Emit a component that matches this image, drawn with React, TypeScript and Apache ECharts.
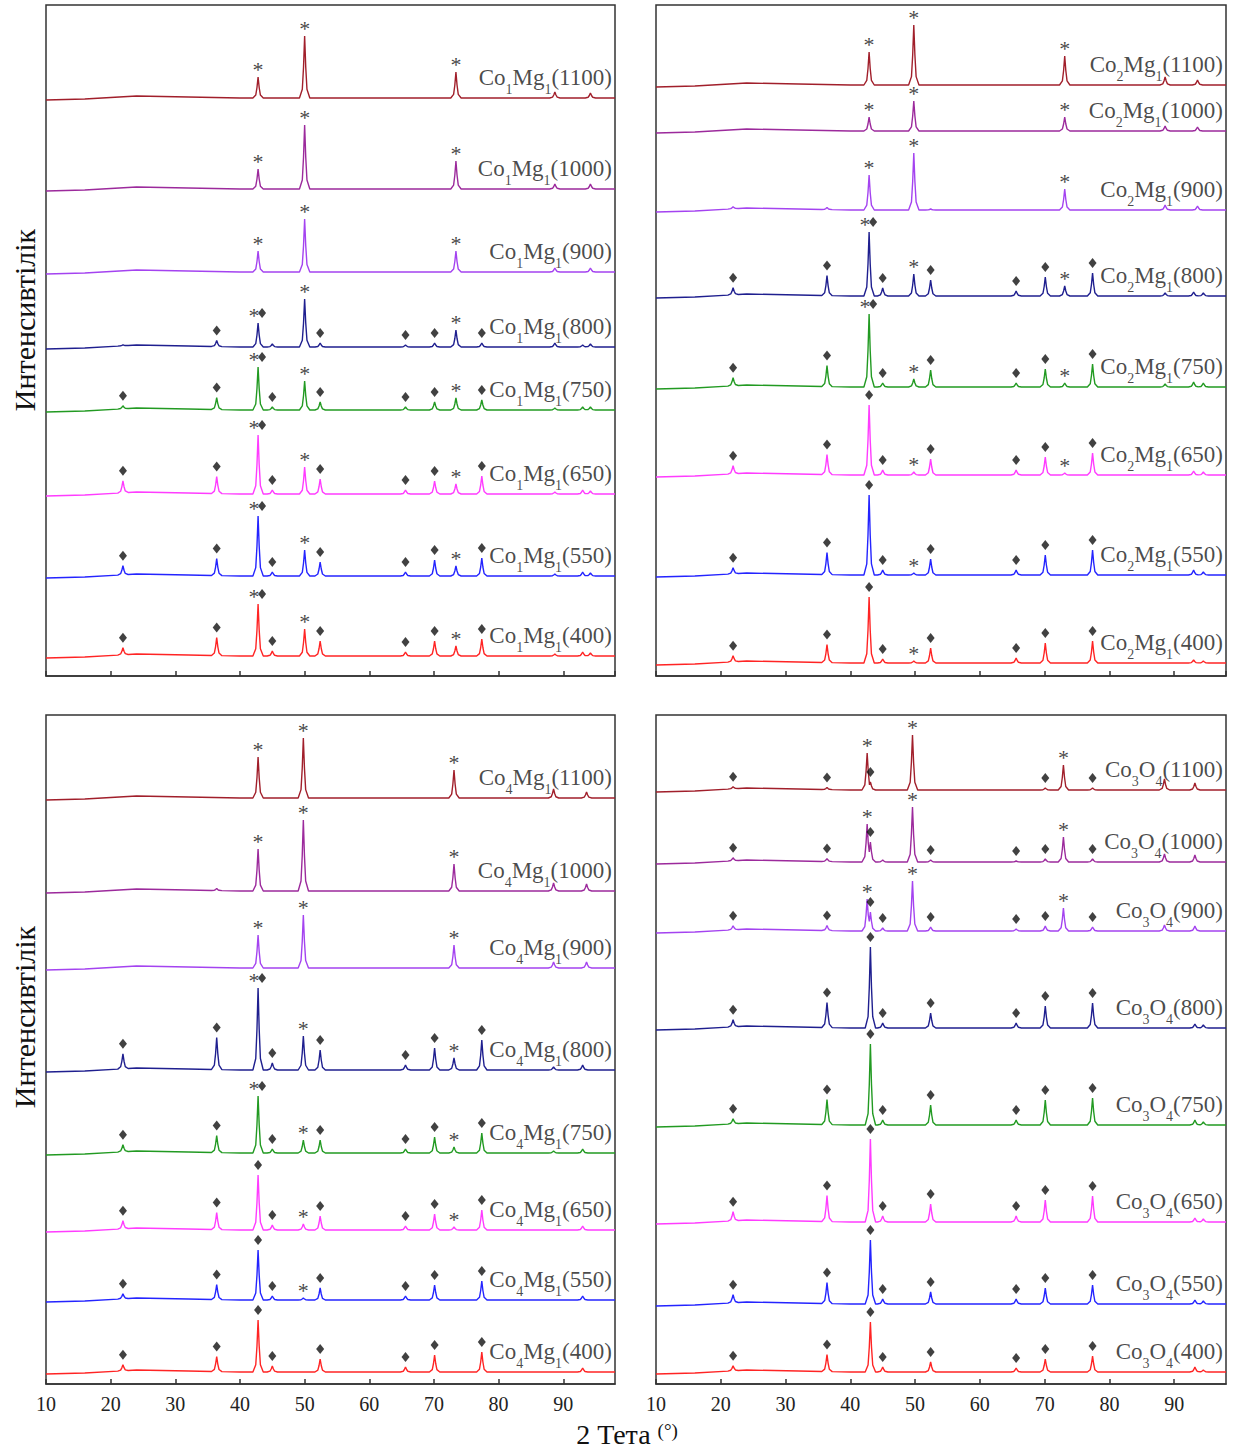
import React, { useEffect, useRef } from 'react';
import * as echarts from 'echarts';

// ---------- data (intensities in arbitrary units) ----------
const temps = ['1100', '1000', '900', '800', '750', '650', '550', '400'];
const colors = ['#a11f2b', '#9c2a9c', '#a443f0', '#1f1f8f', '#229a22', '#ff3cff', '#2424ff', '#ff2424'];

// Panel A : Co1Mg1
const posA = [21.9, 36.4, 42.8, 45.0, 50.0, 52.4, 65.6, 70.1, 73.4, 77.4, 88.7, 93.0, 94.2];
const baseA = [578, 487, 404, 329, 266, 182, 100, 20];
const hA = [
  [0, 0, 21, 0, 62, 0, 0, 0, 26, 0, 6, 0, 5],
  [0, 0, 20, 0, 64, 0, 0, 0, 28, 0, 5, 0, 5],
  [0, 0, 21, 0, 53, 0, 0, 0, 21, 0, 4, 0, 4],
  [1, 6, 24, 3, 48, 4, 2, 4, 17, 4, 4, 2, 3],
  [3, 12, 43, 3, 29, 8, 3, 8, 12, 10, 2, 3, 3],
  [12, 17, 59, 4, 27, 15, 4, 13, 10, 18, 2, 4, 3],
  [9, 17, 60, 4, 26, 14, 4, 16, 10, 18, 2, 4, 3],
  [7, 18, 52, 5, 27, 15, 4, 15, 10, 17, 2, 4, 3],
];
const starOnlyA = [[2, '*'], [4, '*'], [8, '*']];
const mixA = [[0, '◆'], [1, '◆'], [2, '*◆'], [3, '◆'], [4, '*'], [5, '◆'], [6, '◆'], [7, '◆'], [8, '*'], [9, '◆']];
const marksA = [
  starOnlyA, starOnlyA, starOnlyA,
  [[1, '◆'], [2, '*◆'], [4, '*'], [5, '◆'], [6, '◆'], [7, '◆'], [8, '*'], [9, '◆']],
  mixA, mixA, mixA, mixA,
];

// Panel B : Co2Mg1
const posB = [21.9, 36.4, 42.9, 45.0, 49.8, 52.4, 65.6, 70.1, 73.1, 77.4, 88.6, 93.0, 93.6, 94.5];
const baseB = [591, 545, 466, 380, 289, 201, 101, 13];
const hB = [
  [0, 0, 33, 0, 60, 0, 0, 0, 29, 0, 8, 0, 5, 0],
  [0, 0, 14, 0, 30, 0, 0, 0, 14, 0, 5, 0, 4, 0],
  [2, 2, 35, 0, 57, 1, 0, 0, 21, 0, 5, 0, 4, 0],
  [7, 20, 64, 8, 22, 16, 5, 19, 10, 23, 3, 4, 0, 3],
  [8, 21, 73, 4, 8, 17, 4, 18, 4, 23, 3, 5, 0, 4],
  [8, 20, 70, 5, 3, 16, 5, 18, 2, 22, 0, 4, 0, 3],
  [6, 22, 80, 5, 2, 16, 5, 20, 0, 25, 0, 5, 0, 3],
  [6, 18, 66, 4, 2, 15, 5, 20, 0, 22, 0, 3, 0, 2],
];
const starOnlyB = [[2, '*'], [4, '*'], [8, '*']];
const mixB = [[0, '◆'], [1, '◆'], [2, '*◆'], [3, '◆'], [4, '*'], [5, '◆'], [6, '◆'], [7, '◆'], [8, '*'], [9, '◆']];
const marksB = [
  starOnlyB, starOnlyB, starOnlyB, mixB, mixB,
  [[0, '◆'], [1, '◆'], [2, '◆'], [3, '◆'], [4, '*'], [5, '◆'], [6, '◆'], [7, '◆'], [8, '*'], [9, '◆']],
  [[0, '◆'], [1, '◆'], [2, '◆'], [3, '◆'], [4, '*'], [5, '◆'], [6, '◆'], [7, '◆'], [9, '◆']],
  [[0, '◆'], [1, '◆'], [2, '◆'], [3, '◆'], [4, '*'], [5, '◆'], [6, '◆'], [7, '◆'], [9, '◆']],
];

// Panel C : Co4Mg1
const posC = [21.9, 36.4, 42.8, 45.0, 49.8, 52.4, 65.6, 70.1, 73.1, 77.4, 88.5, 93.0, 93.6];
const baseC = [586, 493, 416, 314, 231, 154, 84, 12];
const hC = [
  [0, 0, 41, 0, 60, 0, 0, 0, 28, 0, 9, 0, 6],
  [0, 2, 42, 0, 71, 0, 0, 0, 27, 0, 8, 0, 7],
  [0, 0, 33, 0, 53, 0, 0, 0, 23, 0, 6, 0, 6],
  [15, 32, 82, 7, 34, 20, 5, 22, 12, 30, 3, 5, 0],
  [7, 17, 57, 4, 13, 13, 4, 16, 6, 20, 2, 4, 0],
  [8, 17, 55, 5, 6, 14, 4, 16, 3, 20, 0, 4, 0],
  [5, 15, 50, 4, 2, 12, 4, 15, 0, 19, 0, 4, 0],
  [6, 15, 52, 6, 0, 13, 5, 17, 0, 20, 0, 4, 0],
];
const starOnlyC = [[2, '*'], [4, '*'], [8, '*']];
const mixC = [[0, '◆'], [1, '◆'], [2, '*◆'], [3, '◆'], [4, '*'], [5, '◆'], [6, '◆'], [7, '◆'], [8, '*'], [9, '◆']];
const marksC = [
  starOnlyC, starOnlyC, starOnlyC, mixC, mixC,
  [[0, '◆'], [1, '◆'], [2, '◆'], [3, '◆'], [4, '*'], [5, '◆'], [6, '◆'], [7, '◆'], [8, '*'], [9, '◆']],
  [[0, '◆'], [1, '◆'], [2, '◆'], [3, '◆'], [4, '*'], [5, '◆'], [6, '◆'], [7, '◆'], [9, '◆']],
  [[0, '◆'], [1, '◆'], [2, '◆'], [3, '◆'], [5, '◆'], [6, '◆'], [7, '◆'], [9, '◆']],
];

// Panel D : Co3O4
const posD = [21.9, 36.4, 42.6, 43.1, 45.0, 49.6, 52.4, 65.6, 70.1, 72.9, 77.4, 88.5, 93.2, 94.5];
const baseD = [594, 522, 453, 356, 259, 162, 80, 12];
const hD = [
  [2, 2, 37, 8, 0, 55, 0, 0, 2, 25, 2, 11, 7, 0],
  [3, 3, 38, 20, 2, 55, 2, 1, 3, 25, 3, 8, 7, 0],
  [4, 5, 32, 19, 3, 50, 4, 2, 5, 23, 4, 6, 5, 0],
  [7, 25, 0, 81, 5, 0, 15, 5, 22, 0, 25, 0, 4, 3],
  [5, 25, 0, 81, 5, 0, 20, 5, 25, 0, 27, 0, 5, 3],
  [9, 26, 0, 83, 6, 0, 18, 6, 22, 0, 26, 0, 4, 3],
  [8, 21, 0, 64, 5, 0, 12, 5, 16, 0, 19, 0, 4, 3],
  [5, 17, 0, 50, 5, 0, 10, 4, 13, 0, 16, 0, 5, 2],
];
const spinelD = [[0, '◆'], [1, '◆'], [3, '◆'], [4, '◆'], [6, '◆'], [7, '◆'], [8, '◆'], [10, '◆']];
const marksD = [
  [[0, '◆'], [1, '◆'], [2, '*'], [3, '◆'], [5, '*'], [8, '◆'], [9, '*'], [10, '◆']],
  [[0, '◆'], [1, '◆'], [2, '*'], [3, '◆'], [5, '*'], [6, '◆'], [7, '◆'], [8, '◆'], [9, '*'], [10, '◆']],
  [[0, '◆'], [1, '◆'], [2, '*'], [3, '◆'], [4, '◆'], [5, '*'], [6, '◆'], [7, '◆'], [8, '◆'], [9, '*'], [10, '◆']],
  spinelD, spinelD, spinelD, spinelD, spinelD,
];

// baseline background (amorphous hump) and peak profile shape
const BG_X = [10, 16, 24, 32, 40, 98];
const BG_Y = [-2, -1, 2, 1, 0, 0];
const PROFILE_DX = [-0.8, -0.36, -0.17, 0, 0.17, 0.36, 0.8];
const PROFILE_FR = [0, 0.14, 0.5, 1, 0.5, 0.14, 0];
const HALF = 0.8;

const FONT = "'Liberation Serif', 'Times New Roman', serif";

function interp(xs: number[], ys: number[], x: number) {
  if (x <= xs[0]) return ys[0];
  if (x >= xs[xs.length - 1]) return ys[ys.length - 1];
  for (let i = 1; i < xs.length; i++) {
    if (x <= xs[i]) {
      const t = (x - xs[i - 1]) / (xs[i] - xs[i - 1]);
      return ys[i - 1] + t * (ys[i] - ys[i - 1]);
    }
  }
  return ys[ys.length - 1];
}

function traceY(pos: number[], hs: number[], base: number, x: number) {
  let peak = 0;
  pos.forEach((p, i) => {
    const dx = x - p;
    if (hs[i] > 0 && Math.abs(dx) < HALF) peak = Math.max(peak, hs[i] * interp(PROFILE_DX, PROFILE_FR, dx));
  });
  return base + interp(BG_X, BG_Y, x) + peak;
}

function buildTrace(pos: number[], hs: number[], base: number) {
  const set = new Set<number>(BG_X);
  pos.forEach((p, i) => {
    if (hs[i] > 0) PROFILE_DX.forEach((d) => set.add(+(p + d).toFixed(3)));
  });
  const xs = Array.from(set).filter((x) => x >= 10 && x <= 98).sort((a, b) => a - b);
  return xs.map((x) => [x, traceY(pos, hs, base, x)]);
}

function panelSeries(gi: number, pos: number[], bases: number[], heights: number[][], marks: any[][], fmt: (t: string) => string) {
  const series: any[] = [];
  bases.forEach((b, t) => {
    series.push({
      type: 'line', xAxisIndex: gi, yAxisIndex: gi, silent: true,
      data: buildTrace(pos, heights[t], b), symbol: 'none', showSymbol: false,
      lineStyle: { color: colors[t], width: 1.4 }, itemStyle: { color: colors[t] }, z: 2,
    });
  });
  const diamonds: any[] = [];
  const stars: any[] = [];
  marks.forEach((ml, t) => ml.forEach(([i, k]: [number, string]) => {
    const x = pos[i];
    const y = bases[t] + interp(BG_X, BG_Y, x) + heights[t][i];
    const both = k.length > 1;
    if (k.indexOf('◆') >= 0) diamonds.push({ value: [x, y], symbolOffset: [both ? 4 : 0, -10] });
    if (k.indexOf('*') >= 0) stars.push({ value: [x, y], label: { offset: [both ? -4 : 0, -8] } });
  }));
  series.push({
    type: 'scatter', xAxisIndex: gi, yAxisIndex: gi, silent: true, symbol: 'diamond', symbolSize: [8, 10],
    itemStyle: { color: '#111' }, data: diamonds, z: 5,
  });
  series.push({
    type: 'scatter', xAxisIndex: gi, yAxisIndex: gi, silent: true, symbolSize: 1,
    itemStyle: { color: 'rgba(0,0,0,0)' }, data: stars, z: 5,
    label: { show: true, formatter: '*', position: 'inside', fontSize: 22, fontFamily: FONT, color: '#111' },
  });
  series.push({
    type: 'scatter', xAxisIndex: gi, yAxisIndex: gi, silent: true, symbolSize: 1,
    itemStyle: { color: 'rgba(0,0,0,0)' }, z: 6,
    data: bases.map((b, t) => ({ value: [97.6, b + 21], label: { formatter: fmt(temps[t]) } })),
    label: {
      show: true, position: 'left', distance: 0, fontSize: 23, fontFamily: FONT, color: '#1a1a1a',
      rich: { s: { fontSize: 14, fontFamily: FONT, color: '#1a1a1a', padding: [24, 0, 0, 0] } },
    },
  });
  return series;
}

const grids = [
  { left: 46, top: 5, width: 569, height: 671 },
  { left: 656, top: 5, width: 570, height: 671 },
  { left: 46, top: 715, width: 569, height: 669 },
  { left: 656, top: 715, width: 570, height: 669 },
];

export default function App() {
  const ref = useRef<HTMLDivElement>(null);
  useEffect(() => {
    if (!ref.current) return;
    const chart = echarts.init(ref.current, undefined, { renderer: 'svg' });
    const axisColor = '#333';
    const option: any = {
      animation: false,
      backgroundColor: '#fff',
      grid: grids.map((g) => ({ ...g, show: true, borderColor: axisColor, borderWidth: 1.5, containLabel: false })),
      xAxis: grids.map((g, i) => ({
        gridIndex: i, type: 'value', min: 10, max: 98, interval: 10,
        axisLine: { show: true, onZero: false, lineStyle: { color: axisColor, width: 1.5 } },
        axisTick: { show: true, inside: true, length: 5, lineStyle: { color: axisColor, width: 1.5 } },
        axisLabel: { show: i >= 2, showMaxLabel: false, fontSize: 20, fontFamily: FONT, color: '#222', margin: 10 },
        splitLine: { show: false },
      })),
      yAxis: grids.map((g, i) => ({
        gridIndex: i, type: 'value', min: 0, max: g.height, show: false, splitLine: { show: false },
      })),
      series: [
        ...panelSeries(0, posA, baseA, hA, marksA, (t) => `Co{s|1}Mg{s|1}(${t})`),
        ...panelSeries(1, posB, baseB, hB, marksB, (t) => `Co{s|2}Mg{s|1}(${t})`),
        ...panelSeries(2, posC, baseC, hC, marksC, (t) => `Co{s|4}Mg{s|1}(${t})`),
        ...panelSeries(3, posD, baseD, hD, marksD, (t) => `Co{s|3}O{s|4}(${t})`),
      ],
      graphic: [
        { type: 'text', x: 24, y: 320, rotation: Math.PI / 2, silent: true,
          style: { text: 'Интенсивтілік', fontSize: 30, fontFamily: FONT, fill: '#111', align: 'center', verticalAlign: 'middle' } },
        { type: 'text', x: 24, y: 1017, rotation: Math.PI / 2, silent: true,
          style: { text: 'Интенсивтілік', fontSize: 30, fontFamily: FONT, fill: '#111', align: 'center', verticalAlign: 'middle' } },
        { type: 'text', x: 627, y: 1434, silent: true,
          style: { text: '2 Тета {d|(°)}', fontSize: 28, fontFamily: FONT, fill: '#111', align: 'center', verticalAlign: 'middle',
            rich: { d: { fontSize: 19, fontFamily: FONT, fill: '#111', padding: [0, 0, 8, 0] } } } },
      ],
    };
    chart.setOption(option);
    return () => chart.dispose();
  }, []);
  return <div ref={ref} style={{ position: 'absolute', left: 0, top: 0, width: 1237, height: 1449 }} />;
}
